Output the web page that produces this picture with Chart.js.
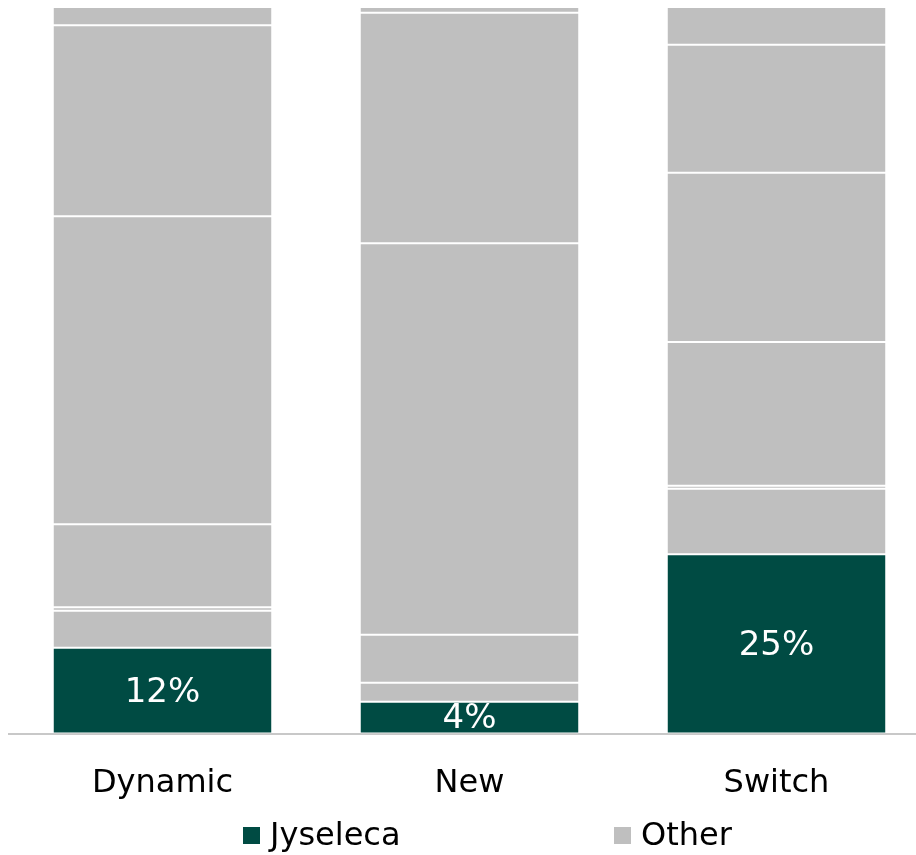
<!DOCTYPE html>
<html>
<head>
<meta charset="utf-8">
<script src="https://cdn.jsdelivr.net/npm/chart.js@4.4.1/dist/chart.umd.min.js"></script>
<style>
    html, body { margin: 0; padding: 0; background: #fff; overflow: hidden; }
    #wrap { position: relative; width: 930px; height: 855px; }
</style>
</head>
<body>
<div id="wrap"><canvas id="share-chart"></canvas></div>

<script>
    // categories and values (% of patients)
    let categories = ['Dynamic', 'New', 'Switch'];
    let jyseleca = [11.8, 4.4, 24.7];
    // "Other" is split into several stacked pieces, bottom to top
    let other_1 = [5.1, 2.6, 9.0];
    let other_2 = [0.5, 0, 0.4];
    let other_3 = [11.4, 6.6, 19.8];
    let other_4 = [42.4, 53.9, 23.3];
    let other_5 = [26.3, 31.7, 17.6];
    let other_6 = [2.5, 0.8, 5.2];
    let jyseleca_labels = ['12%', '4%', '25%'];

    let green = '#004B43';
    let grey = '#BFBFBF';
    let font_family = '"DejaVu Sans", sans-serif';

    function make_dataset(label, data, color) {
        return {
            label: label,
            data: data,
            backgroundColor: color,
            borderColor: '#ffffff',
            borderWidth: {top: 1, bottom: 1, left: 0, right: 0},
            borderSkipped: false,
            categoryPercentage: 1.0,
            barPercentage: 0.71
        };
    }

    // white percentage labels inside the Jyseleca bars
    const bar_labels = {
        id: 'bar_labels',
        afterDatasetsDraw(chart) {
            let ctx = chart.ctx;
            let area = chart.chartArea;
            let meta = chart.getDatasetMeta(0);
            ctx.save();
            ctx.beginPath();
            ctx.rect(area.left, area.top, area.right - area.left, area.bottom - area.top);
            ctx.clip();
            ctx.fillStyle = '#ffffff';
            ctx.font = '34px ' + font_family;
            ctx.textAlign = 'center';
            ctx.textBaseline = 'middle';
            meta.data.forEach((bar, i) => {
                let y = (bar.y + bar.base) / 2;
                ctx.fillText(jyseleca_labels[i], bar.x, y + 2);
            });
            ctx.restore();
        }
    };

    // legend under the axis: only Jyseleca and one Other entry
    const bottom_legend = {
        id: 'bottom_legend',
        afterDraw(chart) {
            let ctx = chart.ctx;
            let items = [
                {text: chart.data.datasets[0].label, color: green, x: 243},
                {text: chart.data.datasets[1].label, color: grey, x: 614}
            ];
            ctx.save();
            ctx.font = '32px ' + font_family;
            ctx.textBaseline = 'middle';
            ctx.textAlign = 'left';
            items.forEach(item => {
                ctx.fillStyle = item.color;
                ctx.fillRect(item.x, 827, 17, 17);
                ctx.fillStyle = '#000000';
                ctx.fillText(item.text, item.x + 27, 837);
            });
            ctx.restore();
        }
    };

    new Chart(document.getElementById('share-chart'), {
        type: 'bar',
        data: {
            labels: categories,
            datasets: [
                make_dataset('Jyseleca', jyseleca, green),
                make_dataset('Other', other_1, grey),
                make_dataset('Other', other_2, grey),
                make_dataset('Other', other_3, grey),
                make_dataset('Other', other_4, grey),
                make_dataset('Other', other_5, grey),
                make_dataset('Other', other_6, grey)
            ]
        },
        options: {
            responsive: true,
            maintainAspectRatio: false,
            animation: false,
            layout: {
                padding: {top: 7, left: 9, right: 0, bottom: 21}
            },
            plugins: {
                legend: {display: false},
                tooltip: {enabled: false}
            },
            scales: {
                x: {
                    stacked: true,
                    grid: {display: false, drawTicks: false},
                    border: {display: true, color: '#C8C8C8', width: 2},
                    ticks: {
                        color: '#000000',
                        padding: 31,
                        font: {family: font_family, size: 32}
                    }
                },
                y: {
                    stacked: true,
                    display: false,
                    min: 0,
                    max: 100
                }
            }
        },
        plugins: [bar_labels, bottom_legend]
    });
</script>
</body>
</html>
